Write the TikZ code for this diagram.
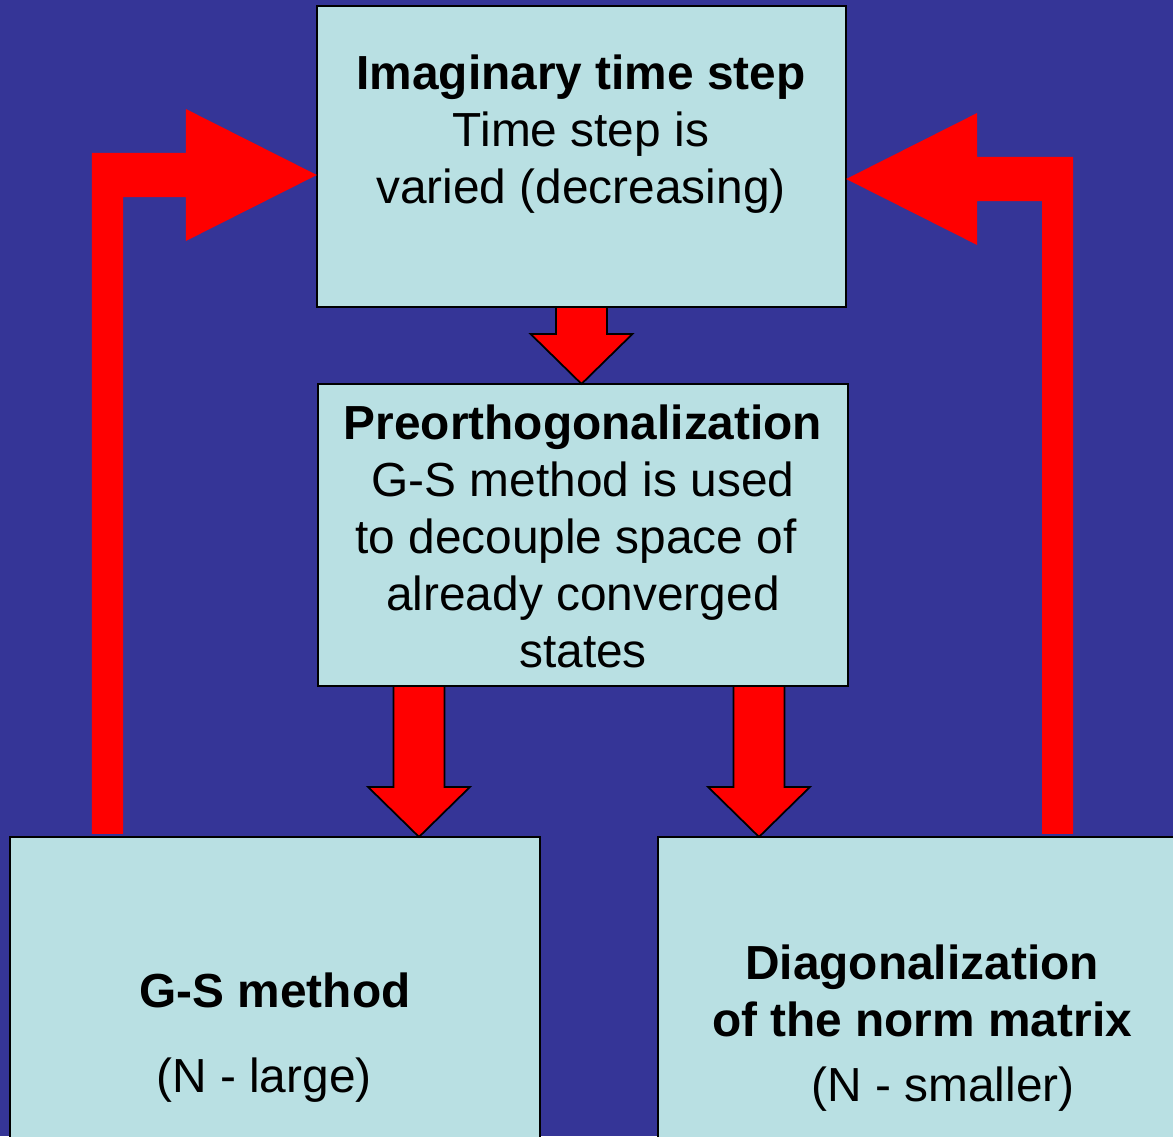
\documentclass[tikz,border=0pt]{standalone}
\usepackage{fontspec}
\setmainfont{Liberation Sans}
\usetikzlibrary{calc}
\definecolor{bgblue}{RGB}{53,53,151}
\definecolor{boxcyan}{RGB}{185,224,227}
\tikzset{
  box/.style={draw=black, line width=0.6pt, fill=boxcyan, inner sep=0pt, outer sep=0pt},
  txt/.style={align=center, font=\fontsize{13.6}{16.2}\selectfont},
  downarrow/.style={draw=black, line width=0.5pt, fill=red, line join=miter},
  elbowarrow/.style={fill=red}
}
% #1 start, #2 node whose top the tip touches
\newcommand{\blockdown}[2]{%
  \draw[downarrow] let \p1=(#1), \p2=(#2) in
    (\x1-0.255cm,\y1) -- (\x1-0.255cm,\y2+0.5cm) -- (\x1-0.51cm,\y2+0.5cm) -- (\x1,\y2)
    -- (\x1+0.51cm,\y2+0.5cm) -- (\x1+0.255cm,\y2+0.5cm) -- (\x1+0.255cm,\y1) -- cycle;}
% #1 start, #2 tip, #3 = 1 (to the right) or -1 (to the left)
\newcommand{\blockelbow}[3]{%
  \fill[elbowarrow] let \p1=(#1), \p2=(#2) in
    ({\x1-(#3)*0.155cm},\y1) -- ({\x1-(#3)*0.155cm},\y2+0.22cm) -- ({\x2-(#3)*1.31cm},\y2+0.22cm)
    -- ({\x2-(#3)*1.31cm},\y2+0.66cm) -- (\x2,\y2) -- ({\x2-(#3)*1.31cm},\y2-0.66cm)
    -- ({\x2-(#3)*1.31cm},\y2-0.22cm) -- ({\x1+(#3)*0.155cm},\y2-0.22cm) -- ({\x1+(#3)*0.155cm},\y1) -- cycle;}

\begin{document}
\begin{tikzpicture}[x=0.01cm, y=-0.01cm]
  \fill[bgblue] (0,0) rectangle (1173,1136);
  \useasboundingbox (0,0) rectangle (1173,1136);
  % boxes
  \node[box, minimum width=5.29cm, minimum height=3.01cm] (timestep) at (581.5,156.5) {};
  \node[box, minimum width=5.30cm, minimum height=3.02cm] (preortho) at (583,535) {};
  \node[box, minimum width=5.30cm, minimum height=3.13cm] (gsbox) at (275,993.5) {};
  \node[box, minimum width=5.22cm, minimum height=3.13cm] (diagbox) at (919,993.5) {};
  % texts
  \node[txt] (timesteptext) at (581,134) {\textbf{Imaginary time step}\\Time step is\\varied (decreasing)};
  \node[txt] (preorthotext) at (583,536) {\textbf{Preorthogonalization}\\G-S method is used\\to decouple space of\rule{0.14cm}{0pt}\\already converged\\states};
  \node[txt] (gstitle) at (275,990) {\textbf{G-S method}};
  \node[txt] (gsnote) at (264,1080) {(N - large)};
  \node[txt] (diagtitle) at (922,991) {\textbf{Diagonalization}\\\textbf{of the norm matrix}};
  \node[txt] (diagnote) at (943,1089) {(N - smaller)};
  % arrows
  \blockdown{timestep.south}{preortho.north}
  \blockdown{$(preortho.south)+(-164,0)$}{gsbox.north}
  \blockdown{$(preortho.south)+(176,0)$}{diagbox.north}
  \blockelbow{$(gsbox.north)+(-167.5,-3)$}{$(timestep.west)+(0,18.5)$}{1}
  \blockelbow{$(diagbox.north)+(138.5,-3)$}{$(timestep.east)+(0,22.5)$}{-1}
\end{tikzpicture}
\end{document}
